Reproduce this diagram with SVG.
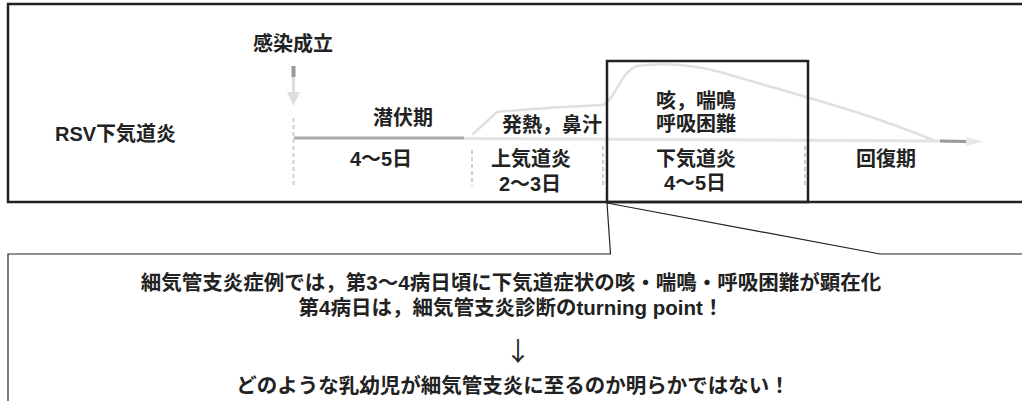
<svg xmlns="http://www.w3.org/2000/svg" width="1022" height="401" viewBox="0 0 1022 401">
<style>
  .t { font-family: "Liberation Sans", "Noto Sans CJK JP", sans-serif; font-weight: bold; fill: #222; font-size: 20px; }
  .b { font-size: 20.5px; }
  .c { text-anchor: middle; }
  .box { fill: none; stroke: #222; stroke-width: 2.5; }
  .thin { fill: none; stroke: #222; stroke-width: 1.2; }
  .faint { fill: none; stroke: #e0e0e0; stroke-width: 2.5; stroke-linecap: round; stroke-linejoin: round; }
  .tick { fill: none; stroke: #cfcfcf; stroke-width: 2; stroke-dasharray: 4 3; }
</style>
<rect width="1022" height="401" fill="#fff"/>

<g id="timeline-graphics">
  <!-- infection arrow -->
  <rect x="291.5" y="66" width="4" height="11" fill="#999"/>
  <line x1="293.5" y1="77" x2="293.5" y2="93" stroke="#ddd" stroke-width="3"/>
  <polygon points="287,92 300,92 293.5,106" fill="#ddd"/>
  <line x1="293.5" y1="118" x2="293.5" y2="186" class="tick"/>
  <!-- latency line -->
  <line x1="294" y1="138" x2="464" y2="138" stroke="#aaa" stroke-width="3"/>
  <!-- main axis -->
  <line x1="464" y1="138.5" x2="940" y2="141" stroke="#e4e4e4" stroke-width="3"/>
  <line x1="940" y1="141" x2="966" y2="141.5" stroke="#999" stroke-width="3"/>
  <polygon points="966,137 984,141.5 966,146" fill="#e8e8e8"/>
  <!-- symptom curve -->
  <path class="faint" d="M473,134 L497,112 C540,108 580,106 603,105 C615,100 620,72 637,66 C660,63 690,64 720,72 C780,90 860,110 933,140"/>
  <!-- ticks -->
  <line x1="472" y1="150" x2="472" y2="186" class="tick"/>
  <line x1="603" y1="146" x2="603" y2="186" class="tick"/>
  <line x1="805" y1="146" x2="805" y2="186" class="tick"/>
</g>

<g id="outer-box"><rect x="8" y="4" width="1040" height="198" class="box"/></g>
<g id="focus-box"><rect x="607" y="61" width="201" height="141" class="box"/></g>

<g id="connectors">
  <polyline class="thin" points="8,410 8,254 610.5,254 607,203"/>
  <polyline class="thin" points="607,203 880,254 1030,254"/>
</g>

<g id="labels">
  <text class="t c" x="293" y="51">感染成立</text>
  <text class="t" x="55" y="141">RSV下気道炎</text>
  <text class="t c" x="403" y="125">潜伏期</text>
  <text class="t c" x="381" y="166">4〜5日</text>
  <text class="t c" x="552" y="132">発熱，鼻汁</text>
  <text class="t c" x="531" y="166">上気道炎</text>
  <text class="t c" x="530" y="191">2〜3日</text>
  <text class="t c" x="696" y="108">咳，喘鳴</text>
  <text class="t c" x="696" y="131">呼吸困難</text>
  <text class="t c" x="696" y="166">下気道炎</text>
  <text class="t c" x="695" y="190">4〜5日</text>
  <text class="t c" x="886" y="166">回復期</text>
</g>

<g id="note">
  <text class="t b c" x="511" y="290">細気管支炎症例では，第3〜4病日頃に下気道症状の咳・喘鳴・呼吸困難が顕在化</text>
  <text class="t b c" x="511" y="315">第4病日は，細気管支炎診断のturning point！</text>
  <text class="c" x="518" y="361" style="font-family:'Noto Sans CJK JP',sans-serif;font-size:26px;fill:#222">↓</text>
  <text class="t b c" x="513" y="393">どのような乳幼児が細気管支炎に至るのか明らかではない！</text>
</g>
</svg>
